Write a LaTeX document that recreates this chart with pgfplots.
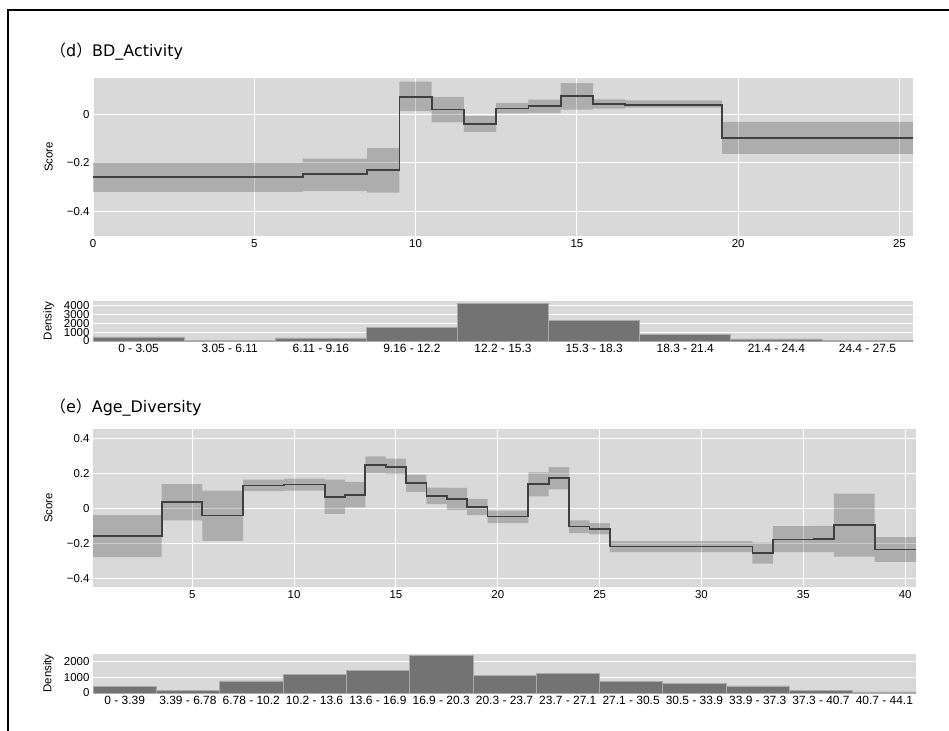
\documentclass[border=0pt]{standalone}
\usepackage{fontspec}
\setmainfont{Liberation Sans}
\newfontfamily\titlefont{DejaVu Sans}
\newfontfamily\cjk{Noto Sans CJK SC}
\usepackage{pgfplots}
\usepackage{pgfplotstable}
\pgfplotsset{compat=1.18}

\definecolor{bgcol}{RGB}{217,217,217}
\definecolor{linecol}{RGB}{64,64,64}
\definecolor{barcol}{RGB}{115,115,115}
\definecolor{baredge}{RGB}{170,170,170}

\pgfplotstableread{
x y lo hi
0 -0.257 -0.319 -0.198
6.5 -0.246 -0.316 -0.183
8.5 -0.230 -0.322 -0.140
9.5 0.071 0.012 0.133
10.5 0.019 -0.034 0.071
11.5 -0.041 -0.073 -0.008
12.5 0.023 0.003 0.046
13.5 0.032 0.005 0.059
14.5 0.074 0.018 0.127
15.5 0.042 0.022 0.060
16.5 0.038 0.026 0.056
19.5 -0.097 -0.163 -0.032
25.42 -0.097 -0.163 -0.032
}\bdtab

\pgfplotstableread{
x y lo hi
0.13 -0.154 -0.275 -0.036
3.5 0.038 -0.065 0.142
5.5 -0.038 -0.182 0.104
7.5 0.133 0.101 0.167
9.5 0.139 0.104 0.173
11.5 0.070 -0.028 0.167
12.5 0.080 0.008 0.154
13.5 0.251 0.203 0.300
14.5 0.241 0.198 0.287
15.5 0.146 0.097 0.194
16.5 0.074 0.027 0.121
17.5 0.057 -0.006 0.120
18.5 0.010 -0.036 0.057
19.5 -0.044 -0.082 -0.010
21.5 0.141 0.072 0.209
22.5 0.175 0.112 0.238
23.5 -0.101 -0.139 -0.065
24.5 -0.114 -0.146 -0.082
25.5 -0.215 -0.247 -0.184
32.5 -0.253 -0.313 -0.192
33.5 -0.175 -0.247 -0.099
35.5 -0.171 -0.247 -0.097
36.5 -0.091 -0.272 0.087
38.5 -0.232 -0.302 -0.161
40.53 -0.232 -0.302 -0.161
}\agetab

\pgfplotsset{
  base/.style={
    scale only axis, anchor=north west,
    axis background/.style={fill=bgcol},
    axis line style={draw=none},
    major tick length=0pt, tick style={draw=none},
    major grid style={white, line width=1bp},
    enlargelimits=false,
    /pgf/number format/assume math mode=true,
    every axis y label/.style={at={(axis description cs:-0.0542,0.5)}, rotate=90, anchor=center, font=\fontsize{11.5}{12}\selectfont},
  },
  score/.style={base, grid=major, ticklabel style={font=\fontsize{11.5}{12}\selectfont}, ylabel={Score}},
  hist/.style={base, ymajorgrids=true, xmajorgrids=false, ybar, bar width=1, ymin=0,
    xticklabel style={font=\fontsize{12}{12}\selectfont},
    yticklabel style={font=\fontsize{11.5}{8}\selectfont, inner ysep=0pt},
    ylabel={Density}},
}

\begin{document}
\begin{tikzpicture}
\path[use as bounding box] (0,0) rectangle (949bp,-731bp);
\draw[line width=1.3bp] (8bp,-731bp) -- (8bp,-10bp) -- (949bp,-10bp);

\node[anchor=base west, inner sep=0, font=\fontsize{16}{18}\selectfont\titlefont] at (50bp,-56.7bp) {{\cjk （}d{\cjk ）}BD\_Activity};
\node[anchor=base west, inner sep=0, font=\fontsize{16}{18}\selectfont\titlefont] at (50bp,-412.7bp) {{\cjk （}e{\cjk ）}Age\_Diversity};

% (d) score
\begin{axis}[score, at={(93bp,-78bp)}, width=820bp, height=158bp,
  xmin=0, xmax=25.42, ymin=-0.5, ymax=0.148,
  xtick={0,5,10,15,20,25},
  ytick={-0.4,-0.2,0}, yticklabels={−0.4,−0.2,0}]
\addplot[const plot, draw=none, stack plots=y, forget plot] table[x=x,y=lo]{\bdtab};
\addplot[const plot, draw=none, fill=black, fill opacity=0.2, stack plots=y] table[x=x,y expr=\thisrow{hi}-\thisrow{lo}]{\bdtab} \closedcycle;
\addplot[const plot, stack plots=false, color=linecol, line width=1.8bp] table[x=x,y=y]{\bdtab};
\end{axis}

% (d) histogram
\begin{axis}[hist, at={(93bp,-301bp)}, width=820bp, height=40bp,
  xmin=-0.5, xmax=8.5, ymax=4500,
  xtick={0,...,8},
  xticklabels={0 - 3.05, 3.05 - 6.11, 6.11 - 9.16, 9.16 - 12.2, 12.2 - 15.3, 15.3 - 18.3, 18.3 - 21.4, 21.4 - 24.4, 24.4 - 27.5},
  ytick={0,1000,2000,3000,4000}, yticklabels={0,1000,2000,3000,4000}]
\addplot[fill=barcol, draw=baredge, line width=0.6bp] coordinates {
(0,460) (1,110) (2,350) (3,1570) (4,4270) (5,2310) (6,770) (7,230) (8,100)};
\end{axis}

% (e) score
\begin{axis}[score, at={(93bp,-429bp)}, width=823bp, height=158bp,
  xmin=0.13, xmax=40.53, ymin=-0.446, ymax=0.456,
  xtick={5,10,15,20,25,30,35,40},
  ytick={-0.4,-0.2,0,0.2,0.4}, yticklabels={−0.4,−0.2,0,0.2,0.4}]
\addplot[const plot, draw=none, stack plots=y, forget plot] table[x=x,y=lo]{\agetab};
\addplot[const plot, draw=none, fill=black, fill opacity=0.2, stack plots=y] table[x=x,y expr=\thisrow{hi}-\thisrow{lo}]{\agetab} \closedcycle;
\addplot[const plot, stack plots=false, color=linecol, line width=1.8bp] table[x=x,y=y]{\agetab};
\end{axis}

% (e) histogram
\begin{axis}[hist, at={(93bp,-654bp)}, width=823bp, height=39bp,
  xmin=-0.5, xmax=12.5, ymax=2500,
  xtick={0,...,12},
  xticklabels={0 - 3.39, 3.39 - 6.78, 6.78 - 10.2, 10.2 - 13.6, 13.6 - 16.9, 16.9 - 20.3, 20.3 - 23.7, 23.7 - 27.1, 27.1 - 30.5, 30.5 - 33.9, 33.9 - 37.3, 37.3 - 40.7, 40.7 - 44.1},
  ytick={0,1000,2000}, yticklabels={0,1000,2000}]
\addplot[fill=barcol, draw=baredge, line width=0.6bp] coordinates {
(0,410) (1,150) (2,775) (3,1190) (4,1445) (5,2410) (6,1120) (7,1250) (8,755) (9,605) (10,450) (11,155) (12,65)};
\end{axis}
\end{tikzpicture}
\end{document}
